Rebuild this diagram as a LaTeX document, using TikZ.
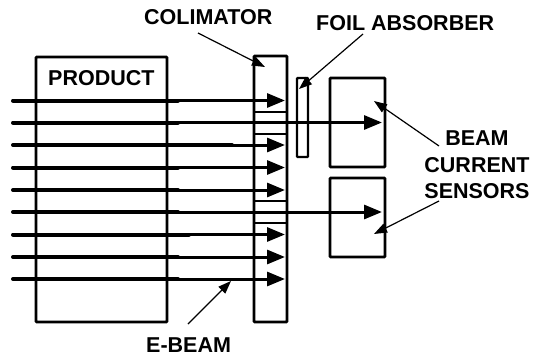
\documentclass[tikz,border=0pt]{standalone}
\usepackage{fontspec}
\setmainfont{Liberation Sans}
\usetikzlibrary{arrows.meta}
\tikzset{
  box/.style={draw,line width=2.8pt,rounded corners=0.8pt,inner sep=0pt,outer sep=0pt,minimum width=#1,anchor=north west},
  lbl/.style={font=\bfseries\fontsize{21.5}{26.5}\selectfont,inner sep=0pt,align=center},
  beam/.style={line width=3pt,-{Triangle[length=18pt,width=14pt]}},
  thick part/.style={line width=4pt,line cap=round},
  lead/.style={line width=1.2pt,-{Triangle[length=13pt,width=9.5pt]}},
  slot/.style={line width=2.8pt}
}
\begin{document}
\begin{tikzpicture}[x=1pt,y=-1pt]
\useasboundingbox (0,0) rectangle (533,356);
\node[box=131pt,minimum height=265pt] (product) at (36,57) {};
\node[box=33pt,minimum height=266pt] (colim) at (254,56) {};
\node[box=11pt,minimum height=79pt,line width=2.4pt] (foil) at (297,78) {};
\node[box=55pt,minimum height=89pt] (s1) at (330,78) {};
\node[box=55pt,minimum height=79pt] (s2) at (330,178) {};
\node[lbl,anchor=base west] (tp) at (48,85) {PRODUCT};
\node[lbl,anchor=base west] (tc) at (144,24) {COLIMATOR};
\node[lbl,anchor=base west] (tf) at (316,30) {FOIL ABSORBER};
\node[lbl,anchor=base] (tb) at (477,145) {BEAM};
\node[lbl,anchor=base] (tcur) at (477,172) {CURRENT};
\node[lbl,anchor=base] (tsen) at (477,198) {SENSORS};
\node[lbl,anchor=base west] (te) at (146,352) {E-BEAM};
% collimator slots
\foreach \y in {112,134,201,223}{
  \draw[slot] (colim.west |- 0,\y) -- (colim.east |- 0,\y);
}
% beams: y, thick end, arrow tip
\foreach \n/\y/\t/\e in {1/100.5/178/285,2/122.5/178/382,3/145/232/285,4/167.5/178/285,5/190/178/285,6/212/178/382,7/234.5/189/285,8/257/178/285,9/279/178/285}{
  \coordinate (b\n) at (13,\y);
  \coordinate (m\n) at (\t,\y);
  \coordinate (e\n) at (\e,\y);
  \draw[thick part] (b\n) -- (m\n);
  \draw[beam] (m\n) -- (e\n);
}
% leaders
\coordinate (lc) at (198,33);
\coordinate (lca) at (265,67);
\coordinate (lf) at (363,34);
\coordinate (lfa) at (299,89);
\coordinate (lb1) at (439,146);
\coordinate (lb1a) at (374,101);
\coordinate (lb2) at (439,201);
\coordinate (lb2a) at (374,234);
\coordinate (le) at (188,324);
\coordinate (lea) at (231,281);
\draw[lead] (lc) -- (lca);
\draw[lead] (lf) -- (lfa);
\draw[lead] (lb1) -- (lb1a);
\draw[lead] (lb2) -- (lb2a);
\draw[lead] (le) -- (lea);
\end{tikzpicture}
\end{document}
